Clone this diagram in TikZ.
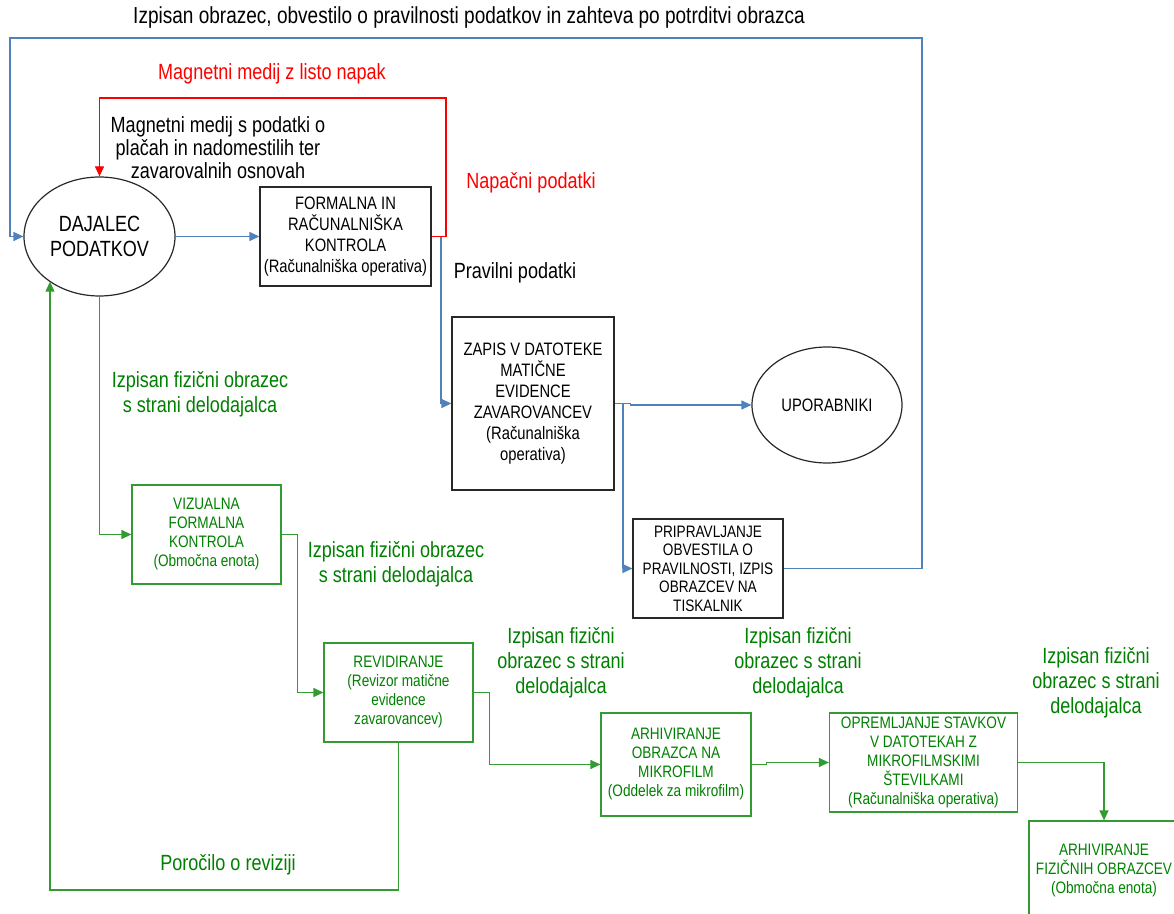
\documentclass[tikz,border=0pt]{standalone}
\usepackage{fontspec}
\setmainfont{Liberation Sans}[FakeStretch=0.82]
\usetikzlibrary{arrows.meta,shapes.geometric}
\definecolor{flowblue}{RGB}{79,129,189}
\definecolor{flowgreen}{RGB}{50,155,50}
\definecolor{textgreen}{RGB}{0,128,0}
\definecolor{boxgray}{RGB}{40,40,40}

\begin{document}
\begin{tikzpicture}[x=0.5pt,y=-0.5pt,
  >={Triangle[length=5pt,width=4.5pt]},
  lbl/.style={font=\fontsize{11}{12.5}\selectfont,align=center,inner sep=0pt},
  oval/.style={ellipse,draw=boxgray,line width=0.6pt,inner sep=0pt,align=center},
  blackbox/.style={rectangle,draw=boxgray,line width=0.6pt,inner sep=0pt,align=center,
    font=\fontsize{9}{10.5}\selectfont},
  greenbox/.style={rectangle,draw=flowgreen,line width=0.6pt,inner sep=0pt,align=center,
    text=textgreen,font=\fontsize{8.3}{9.5}\selectfont},
  blueline/.style={draw=flowblue,line width=0.6pt},
  redline/.style={draw=red,line width=0.6pt},
  greenline/.style={draw=flowgreen,line width=0.6pt}]
  \useasboundingbox (0,0) rectangle (1174,914);
  \clip (0,0) rectangle (1174,914);

  \node[oval,minimum width=75.5pt,minimum height=59.5pt,lbl] (daj) at (99.5,236.5) {DAJALEC\\PODATKOV};
  \node[blackbox,minimum width=85.5pt,minimum height=49.5pt] (form) at (345.5,236.5)
    {FORMALNA IN\\RAČUNALNIŠKA\\KONTROLA\\(Računalniška operativa)};
  \node[blackbox,minimum width=81pt,minimum height=86.5pt] (zapis) at (533,403.5)
    {ZAPIS V DATOTEKE\\MATIČNE\\EVIDENCE\\ZAVAROVANCEV\\(Računalniška\\operativa)};
  \node[oval,minimum width=75pt,minimum height=58pt,font=\fontsize{9}{10.5}\selectfont] (upor) at (827,405) {UPORABNIKI};
  \node[blackbox,minimum width=75pt,minimum height=49.5pt,font=\fontsize{8.3}{9.25}\selectfont] (prip) at (708,568.5)
    {PRIPRAVLJANJE\\OBVESTILA O\\PRAVILNOSTI, IZPIS\\OBRAZCEV NA\\TISKALNIK};
  \node[greenbox,minimum width=74.5pt,minimum height=49.5pt] (viz) at (206.5,534.5)
    {VIZUALNA\\FORMALNA\\KONTROLA\\(Območna enota)};
  \node[greenbox,minimum width=74.5pt,minimum height=49.5pt] (rev) at (398.5,692.5)
    {REVIDIRANJE\\(Revizor matične\\evidence\\zavarovancev)};
  \node[greenbox,minimum width=75pt,minimum height=51.5pt] (arhm) at (676,764.5)
    {ARHIVIRANJE\\OBRAZCA NA\\MIKROFILM\\(Oddelek za mikrofilm)};
  \node[greenbox,minimum width=94pt,minimum height=49.5pt] (opr) at (923.5,762.5)
    {OPREMLJANJE STAVKOV\\V DATOTEKAH Z\\MIKROFILMSKIMI\\ŠTEVILKAMI\\(Računalniška operativa)};
  \node[greenbox,minimum width=75pt,minimum height=50pt] (arhf) at (1104,871)
    {ARHIVIRANJE\\FIZIČNIH OBRAZCEV\\(Območna enota)};

  \node[lbl,font=\fontsize{11.6}{12.5}\selectfont] (ttop) at (469,18) {Izpisan obrazec, obvestilo o pravilnosti podatkov in zahteva po potrditvi obrazca};
  \node[lbl,text=red] (tnapak) at (272,74) {Magnetni medij z listo napak};
  \node[lbl,font=\fontsize{11}{11.5}\selectfont] (tmedij) at (218,147.5)
    {Magnetni medij s podatki o\\plačah in nadomestilih ter\\zavarovalnih osnovah};
  \node[lbl,text=red] (tnapacni) at (531,183) {Napačni podatki};
  \node[lbl] (tpravilni) at (515,273) {Pravilni podatki};
  \node[lbl,text=textgreen] (tfiz1) at (200,394.5) {Izpisan fizični obrazec\\s strani delodajalca};
  \node[lbl,text=textgreen] (tfiz2) at (396,564.5) {Izpisan fizični obrazec\\s strani delodajalca};
  \node[lbl,text=textgreen] (tfiz3) at (561,662.5) {Izpisan fizični\\obrazec s strani\\delodajalca};
  \node[lbl,text=textgreen] (tfiz4) at (798,662.5) {Izpisan fizični\\obrazec s strani\\delodajalca};
  \node[lbl,text=textgreen] (tfiz5) at (1096,683) {Izpisan fizični\\obrazec s strani\\delodajalca};
  \node[lbl,text=textgreen] (trev) at (228,865) {Poročilo o reviziji};

  \coordinate (tr) at (922,38);
  \coordinate (tl) at (10,38);
  \coordinate (rt) at (446,98);
  \coordinate (bl) at (50,890);
  \coordinate (fk) at (441,236.5);
  \coordinate (zk) at (623,403.5);

  \draw[blueline,->] (daj.east) -- (form.west);
  \draw[blueline,->] (form.east) -- (fk) |- (zapis.west);
  \draw[blueline,->] (zapis.east) -- ++(16,0) |- (upor.west);
  \draw[blueline,->] (zk) |- (prip.west);
  \draw[blueline,->] (prip.east) -| (tr) -- (tl) |- (daj.west);
  \draw[redline,->] (form.east) -| (rt) -| (daj.north);

  \draw[greenline,->] (daj.south) |- (viz.west);
  \draw[greenline,->] (viz.east) -- ++(16,0) |- (rev.west);
  \draw[greenline,->] (rev.east) -- ++(16,0) |- (arhm.west);
  \draw[greenline,->] (arhm.east) -- ++(15,0) |- (opr.west);
  \draw[greenline,->] (opr.east) -| (arhf.north);
  \draw[greenline,->] (rev.south) |- (bl) -- (bl |- daj.222);
\end{tikzpicture}
\end{document}
